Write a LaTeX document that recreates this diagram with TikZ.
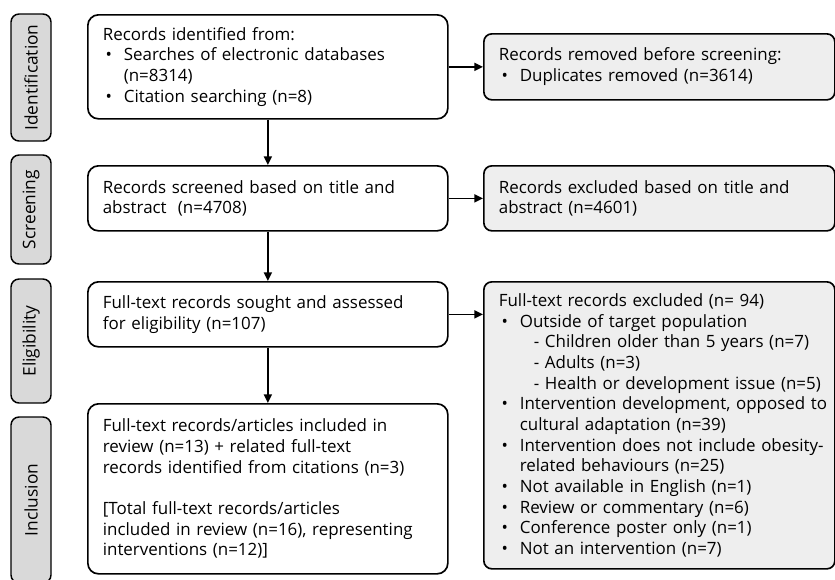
\documentclass[tikz,border=0pt]{standalone}
\usepackage{fontspec}
\setmainfont{Open Sans}
\usetikzlibrary{arrows.meta}
\definecolor{sidegray}{HTML}{D9D9D9}
\definecolor{boxgray}{HTML}{EEEEEE}
\newcommand\bul[1]{\mbox{\makebox[15.75pt][l]{\hspace{2pt}•}#1}}
\newcommand\cont[1]{\mbox{\hspace*{15.75pt}#1}}
\newcommand\subit[1]{\mbox{\hspace*{26.25pt}#1}}
\newcommand\tline[1]{\mbox{#1}}
\begin{document}
\begin{tikzpicture}[x=0.75pt,y=-0.75pt,
  every node/.style={font=\fontsize{12.7pt}{15.5pt}\selectfont},
  mainbox/.style={draw, line width=1.25pt, rounded corners=8pt, anchor=north west,
    inner xsep=11.25pt, inner ysep=0pt, align=left, minimum width=270pt},
  graybox/.style={mainbox, fill=boxgray, rounded corners=6pt, minimum width=263.25pt},
  side/.style={draw, line width=1.1pt, fill=sidegray, rounded corners=6pt, rotate=90,
    minimum height=30pt, inner sep=0pt, font=\fontsize{13pt}{15.5pt}\selectfont},
  arr/.style={line width=1.25pt, -{Triangle[length=6.5pt,width=6pt]}}]
\useasboundingbox (0,0) rectangle (835,579);

% side labels
\node[side, minimum width=95.25pt] (sid) at (31,77.5) {Identification};
\node[side, minimum width=81.75pt] (ssc) at (31,209.5) {Screening};
\node[side, minimum width=93pt] (sel) at (31,341) {Eligibility};
\node[side, minimum width=124.5pt] (sin) at (31,500) {Inclusion};

% left column
\node[mainbox, text width=247.5pt, minimum height=78pt] (b1) at (87,14) {\tline{Records identified from:}\\
\bul{Searches of electronic databases}\\
\cont{(n=8314)}\\
\bul{Citation searching (n=8)}};
\node[mainbox, text width=247.5pt, minimum height=48.75pt] (b3) at (87,165) {\tline{Records screened based on title and}\\
\tline{abstract~ (n=4708)}};
\node[mainbox, text width=247.5pt, minimum height=48.75pt] (b5) at (87,281) {\tline{Full-text records sought and assessed}\\
\tline{for eligibility (n=107)}};
\node[mainbox, text width=247.5pt, minimum height=127.5pt] (b7) at (87,403) {\tline{Full-text records/articles included in}\\
\tline{review (n=13) + related full-text}\\
\tline{records identified from citations (n=3)}\\[15.5pt]
\tline{[Total full-text records/articles}\\
\tline{included in review (n=16), representing}\\
\tline{interventions (n=12)]}};

% right column
\node[graybox, text width=240.75pt, minimum height=49.5pt] (b2) at (483,33) {\tline{Records removed before screening:}\\
\bul{Duplicates removed (n=3614)}};
\node[graybox, text width=240.75pt, minimum height=48.75pt] (b4) at (483,165) {\tline{Records excluded based on title and}\\
\tline{abstract (n=4601)}};
\node[graybox, text width=240.75pt, minimum height=215.25pt] (b6) at (483,281) {\tline{Full-text records excluded (n= 94)}\\
\bul{Outside of target population}\\
\subit{- Children older than 5 years (n=7)}\\
\subit{- Adults (n=3)}\\
\subit{- Health or development issue (n=5)}\\
\bul{Intervention development, opposed to}\\
\cont{cultural adaptation (n=39)}\\
\bul{Intervention does not include obesity-}\\
\cont{related behaviours (n=25)}\\
\bul{Not available in English (n=1)}\\
\bul{Review or commentary (n=6)}\\
\bul{Conference poster only (n=1)}\\
\bul{Not an intervention (n=7)}};

% connectors
\draw[arr] (b1) -- (b3);
\draw[arr] (b3) -- (b5);
\draw[arr] (b5) -- (b7);
\draw[arr] (b1.east) -- (b2.west);
\draw[arr] (b3.east) -- (b4.west);
\draw[arr] (b5.east) -- (b5.east -| b6.west);
\end{tikzpicture}
\end{document}
